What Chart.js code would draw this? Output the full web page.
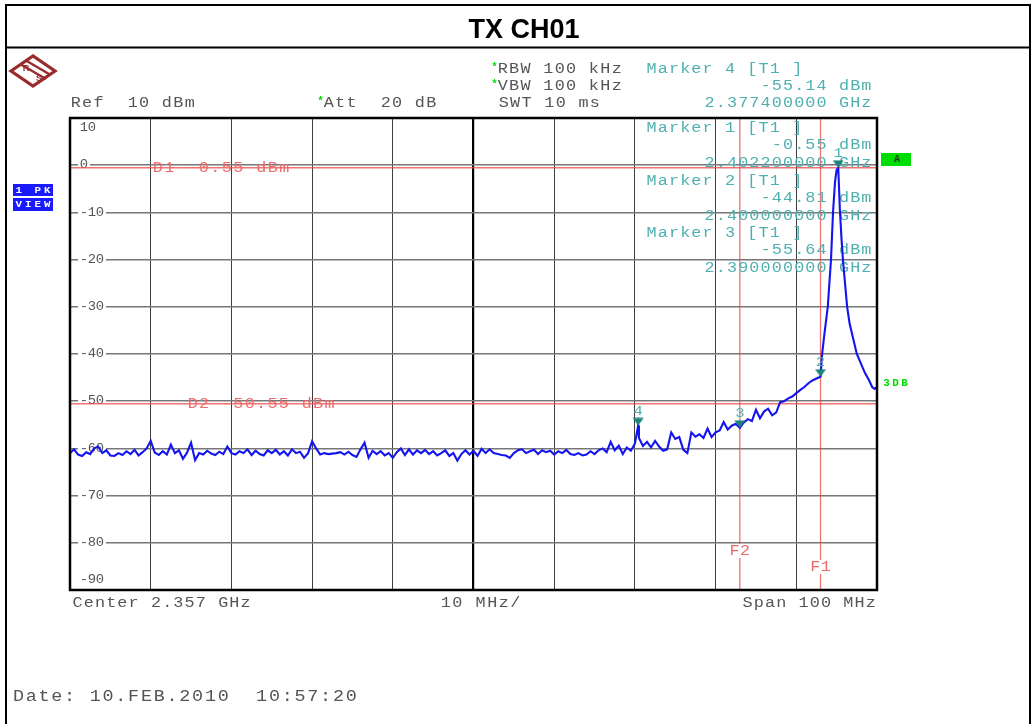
<!DOCTYPE html>
<html>
<head>
<meta charset="utf-8">
<script src="https://cdn.jsdelivr.net/npm/chart.js@4.4.1/dist/chart.umd.min.js"></script>
<style>
  html, body { margin: 0; padding: 0; background: #ffffff; }
  canvas { display: block; }
</style>
</head>
<body>
<canvas id="c" width="1035" height="724"></canvas>
<script>
// ---- sweep settings ----
const title = 'TX CH01';
const startFreqMHz = 2307;
const stopFreqMHz = 2407;
const stepMHz = 0.5;
const refLevel = 10;
const bottomLevel = -90;
const levelTicks = [10, 0, -10, -20, -30, -40, -50, -60, -70, -80, -90];

// trace levels (dBm) every 0.5 MHz from 2307.0 to 2399.5 MHz
const floorLevels = [
  -61.0, -60.2, -61.3, -61.6, -60.8, -61.2, -60.0, -59.6, -61.0, -60.4,
  -61.5, -61.6, -61.0, -61.4, -60.6, -61.2, -60.3, -61.5, -60.8, -60.0,
  -58.4, -60.9, -61.4, -60.6, -61.3, -59.2, -61.0, -60.4, -62.2, -60.9,
  -58.8, -62.5, -61.0, -61.3, -60.5, -61.1, -61.4, -60.7, -61.2, -59.6,
  -61.0, -61.3, -60.6, -61.0, -60.2, -61.4, -60.5, -61.2, -61.5, -60.4,
  -61.0, -60.3, -61.3, -60.6, -61.5, -60.2, -61.0, -60.7, -62.0, -61.0,
  -58.5, -60.0, -61.3, -61.0, -61.2, -61.1, -61.0, -60.8, -61.3, -60.7,
  -61.4, -61.8, -60.2, -58.8, -62.0, -60.5, -61.2, -60.6, -61.5, -61.0,
  -62.0, -60.8, -60.0, -61.4, -60.2, -61.3, -60.4, -61.0, -60.3, -61.2,
  -60.6, -61.5, -61.0, -60.4, -61.6, -61.0, -62.6, -61.2, -60.4, -61.3,
  -60.5, -61.6, -60.1, -61.0, -60.2, -61.0, -61.2, -61.4, -61.5, -62.0,
  -61.0, -60.4, -60.2, -61.0, -60.6, -60.3, -61.2, -60.4, -60.8, -60.5,
  -61.3, -60.6, -61.0, -60.3, -61.2, -61.4, -61.0, -61.5, -61.3, -60.6,
  -61.2, -60.4, -60.0, -60.8, -58.6, -60.4, -59.4, -61.2, -59.8, -60.5,
  -59.0, -57.8, -59.5, -58.6, -59.8, -58.4, -59.6, -60.5, -60.2, -56.6,
  -58.0, -57.6, -60.3, -61.0, -56.6, -57.5, -57.0, -57.8, -55.8, -57.6,
  -56.6, -56.2, -54.4, -56.0, -55.2, -54.8, -55.64, -54.5, -53.8, -54.2,
  -51.8, -53.6, -52.2, -51.6, -53.0, -52.4, -50.2, -50.0, -49.4, -49.0,
  -48.3, -47.6, -47.0, -46.2, -45.6, -45.2
];

// carrier region, finer resolution (MHz / dBm)
const peakFreqs  = [2400.0, 2400.2, 2400.5, 2400.9, 2401.3, 2401.55, 2401.8, 2402.0, 2402.2, 2402.4, 2402.6,
                    2402.8, 2403.3, 2403.6, 2404.0, 2404.5, 2405.0, 2405.5, 2406.0, 2406.4, 2406.7, 2407.0];
const peakLevels = [-44.81, -40.0, -35.5, -30.0, -20.0, -10.0, -3.5, -1.0, -0.55, -9.5, -15.5,
                    -20.5, -30.0, -33.5, -36.4, -40.0, -42.0, -44.0, -45.5, -47.0, -47.4, -47.0];

// markers
const markerIds    = [1, 2, 3, 4];
const markerFreqs  = [2402.2, 2400.0, 2390.0, 2377.4];
const markerLevels = [-0.55, -44.81, -55.64, -55.14];

// display lines and frequency lines
const displayLineNames  = ['D1', 'D2'];
const displayLineLevels = [-0.55, -50.55];
const freqLineNames = ['F1', 'F2'];
const freqLineFreqs = [2400.0, 2390.0];

// ---- build trace points ----
const tracePoints = [];
floorLevels.forEach((v, i) => tracePoints.push({ x: startFreqMHz + i * stepMHz, y: v }));
peakFreqs.forEach((f, i) => tracePoints.push({ x: f, y: peakLevels[i] }));
markerFreqs.forEach((f, i) => {
  const k = tracePoints.findIndex(p => Math.abs(p.x - f) < 1e-6);
  if (k >= 0) tracePoints[k].y = markerLevels[i];
  else tracePoints.push({ x: f, y: markerLevels[i] });
});
tracePoints.sort((a, b) => a.x - b.x);

const markerPoints = markerFreqs.map((f, i) => ({ x: f, y: markerLevels[i] }));

// ---- colours ----
const TEXT_GRAY = '#555555';
const MARKER_TEXT = '#4fb0b0';
const MARKER_FILL = '#1c8378';
const RED_LINE = 'rgba(236, 70, 70, 0.75)';
const RED_TEXT = '#ee6a6a';
const TRACE_BLUE = '#1414f0';
const GREEN = '#00dd00';
const MONO = '"Liberation Mono", "DejaVu Sans Mono", monospace';

// downward marker triangle whose tip sits on the image centre
const markerImg = document.createElement('canvas');
markerImg.width = 12; markerImg.height = 16;
(function () {
  const g = markerImg.getContext('2d');
  g.fillStyle = MARKER_FILL;
  g.beginPath();
  g.moveTo(0.5, 0.5); g.lineTo(11.5, 0.5); g.lineTo(6, 8); g.closePath();
  g.fill();
})();

// fixed-pitch text, each glyph centred in its cell and widened a little
function monoText(ctx, text, x, y, o) {
  const pitch = o.pitch || 11.2, size = o.size || 14, sx = o.sx || 1.2;
  ctx.save();
  ctx.font = (o.weight || 'normal') + ' ' + size + 'px ' + MONO;
  ctx.fillStyle = o.color || TEXT_GRAY;
  ctx.textAlign = 'center';
  ctx.textBaseline = 'middle';
  const total = text.length * pitch;
  const x0 = o.align === 'right' ? x - total : (o.align === 'center' ? x - total / 2 : x);
  if (o.backdrop) {
    ctx.fillStyle = o.backdrop;
    ctx.fillRect(x0 - 2, y - size / 2, total + 4, size);
    ctx.fillStyle = o.color || TEXT_GRAY;
  }
  for (let i = 0; i < text.length; i++) {
    const ch = text[i];
    if (ch === ' ') continue;
    ctx.save();
    ctx.translate(x0 + (i + 0.5) * pitch, y);
    ctx.scale(sx, 1);
    ctx.fillText(ch, 0, 0);
    ctx.restore();
  }
  ctx.restore();
}

function markerLines(i) {
  return [
    'Marker ' + markerIds[i] + ' [T1 ]',
    markerLevels[i].toFixed(2) + ' dBm',
    (markerFreqs[i] / 1000).toFixed(9) + ' GHz'
  ];
}

// frame, header, annotations drawn below the trace
const underlay = {
  id: 'underlay',
  beforeDraw(chart) {
    const ctx = chart.ctx;
    ctx.save();
    ctx.fillStyle = '#ffffff';
    ctx.fillRect(0, 0, chart.width, chart.height);

    // outer frame and title row
    ctx.strokeStyle = '#000000';
    ctx.lineWidth = 2;
    ctx.strokeRect(6, 5, 1024, 760);
    ctx.beginPath(); ctx.moveTo(6, 47.5); ctx.lineTo(1030, 47.5); ctx.stroke();
    ctx.fillStyle = '#000000';
    ctx.font = 'bold 27px "Liberation Sans", Arial, sans-serif';
    ctx.textAlign = 'center';
    ctx.textBaseline = 'middle';
    ctx.fillText(title, 524, 31);

    // maker logo
    ctx.save();
    ctx.translate(33, 71);
    ctx.strokeStyle = '#9a2b2b';
    ctx.fillStyle = '#9a2b2b';
    ctx.lineWidth = 3.2;
    ctx.beginPath();
    ctx.moveTo(-22, 0); ctx.lineTo(0, -15); ctx.lineTo(22, 0); ctx.lineTo(0, 15); ctx.closePath();
    ctx.stroke();
    ctx.lineWidth = 2.4;
    ctx.beginPath();
    ctx.moveTo(-13, -7); ctx.lineTo(13, 8);
    ctx.moveTo(-8, -11); ctx.lineTo(16, 3);
    ctx.stroke();
    ctx.font = 'bold 9px "Liberation Sans", sans-serif';
    ctx.textAlign = 'center'; ctx.textBaseline = 'middle';
    ctx.fillText('R', -7, -2);
    ctx.fillText('S', 6, 8);
    ctx.restore();

    // header settings
    monoText(ctx, 'RBW 100 kHz', 497, 69, { pitch: 11.4 });
    monoText(ctx, 'VBW 100 kHz', 497, 86, { pitch: 11.4 });
    monoText(ctx, 'SWT 10 ms', 498, 103, { pitch: 11.4 });
    monoText(ctx, 'Ref  ' + refLevel + ' dBm', 70, 103, { pitch: 11.4 });
    monoText(ctx, 'Att  20 dB', 323, 103, { pitch: 11.4 });
    monoText(ctx, '*', 489, 67, { color: GREEN, size: 11, sx: 1, weight: 'bold' });
    monoText(ctx, '*', 489, 84, { color: GREEN, size: 11, sx: 1, weight: 'bold' });
    monoText(ctx, '*', 315, 101, { color: GREEN, size: 11, sx: 1, weight: 'bold' });

    // marker 4 readout in the header
    const m4 = markerLines(3);
    monoText(ctx, m4[0], 646, 69, { color: MARKER_TEXT });
    monoText(ctx, m4[1], 872, 86, { color: MARKER_TEXT, align: 'right' });
    monoText(ctx, m4[2], 872, 103, { color: MARKER_TEXT, align: 'right' });

    // trace status box
    ctx.fillStyle = '#1a1aff';
    ctx.fillRect(13, 184, 40, 12);
    ctx.fillRect(13, 198, 40, 13);
    monoText(ctx, '1 PK', 14, 190.5, { color: '#ffffff', size: 9, pitch: 9.5, weight: 'bold', sx: 1.2 });
    monoText(ctx, 'VIEW', 14, 204.5, { color: '#ffffff', size: 9, pitch: 9.5, weight: 'bold', sx: 1.2 });

    // footer
    monoText(ctx, 'Center 2.357 GHz', 72, 603, { pitch: 11.2 });
    monoText(ctx, '10 MHz/', 440, 603, { pitch: 11.6 });
    monoText(ctx, 'Span 100 MHz', 742, 603, { pitch: 11.2 });
    monoText(ctx, 'Date: 10.FEB.2010  10:57:20', 12, 697, { pitch: 12.8, size: 16, sx: 1.15 });
    ctx.restore();
  },
  beforeDatasetsDraw(chart) {
    const ctx = chart.ctx;
    const xs = chart.scales.x, ys = chart.scales.y;
    const a = chart.chartArea;
    ctx.save();

    // level labels on the grid
    ys.ticks.forEach(t => {
      let y = ys.getPixelForValue(t.value);
      const txt = String(t.value);
      if (t.value === refLevel) y += 10;
      else if (t.value === bottomLevel) y -= 10;
      const bg = (t.value === refLevel || t.value === bottomLevel) ? null : '#ffffff';
      monoText(ctx, txt, a.left + 10, y, { pitch: 8, size: 12, sx: 1.15, backdrop: bg });
    });

    // display lines
    displayLineLevels.forEach((lv, i) => {
      const y = ys.getPixelForValue(lv);
      ctx.strokeStyle = RED_LINE;
      ctx.lineWidth = 1.5;
      ctx.beginPath(); ctx.moveTo(a.left, y); ctx.lineTo(a.right, y); ctx.stroke();
    });
    monoText(ctx, displayLineNames[0] + ' ' + displayLineLevels[0].toFixed(2) + ' dBm', 152, ys.getPixelForValue(displayLineLevels[0]) + 1, { color: RED_TEXT, pitch: 11.5 });
    monoText(ctx, displayLineNames[1] + ' ' + displayLineLevels[1].toFixed(2) + ' dBm', 187, ys.getPixelForValue(displayLineLevels[1]) + 1, { color: RED_TEXT, pitch: 11.4 });

    // frequency lines
    const fLabelY = [567, 551];
    freqLineFreqs.forEach((f, i) => {
      const x = xs.getPixelForValue(f);
      ctx.strokeStyle = RED_LINE;
      ctx.lineWidth = 1.3;
      ctx.beginPath(); ctx.moveTo(x, a.top); ctx.lineTo(x, a.bottom); ctx.stroke();
      monoText(ctx, freqLineNames[i], x, fLabelY[i], { color: RED_TEXT, align: 'center', pitch: 10.5, backdrop: '#ffffff' });
    });

    // marker 1..3 readouts inside the diagram
    const blockY = [128, 181, 233];
    [0, 1, 2].forEach((m, k) => {
      const L = markerLines(m);
      monoText(ctx, L[0], 646, blockY[k], { color: MARKER_TEXT });
      monoText(ctx, L[1], 872, blockY[k] + 17.5, { color: MARKER_TEXT, align: 'right' });
      monoText(ctx, L[2], 872, blockY[k] + 35, { color: MARKER_TEXT, align: 'right' });
    });
    ctx.restore();
  },
  afterDatasetsDraw(chart) {
    const ctx = chart.ctx;
    const xs = chart.scales.x, ys = chart.scales.y;
    const a = chart.chartArea;
    ctx.save();

    // marker numbers above the triangles
    markerFreqs.forEach((f, i) => {
      const x = xs.getPixelForValue(f), y = ys.getPixelForValue(markerLevels[i]);
      monoText(ctx, String(markerIds[i]), x, y - 14, { color: MARKER_TEXT, align: 'center', pitch: 9, size: 13 });
    });

    // diagram frame
    ctx.strokeStyle = '#000000';
    ctx.lineWidth = 2.5;
    ctx.strokeRect(a.left, a.top, a.right - a.left, a.bottom - a.top);

    // limit / reference indicators right of the diagram
    ctx.fillStyle = GREEN;
    ctx.fillRect(881, 153, 30, 13);
    ctx.fillStyle = '#1a3a1a';
    ctx.font = 'bold 10px ' + MONO;
    ctx.textAlign = 'center'; ctx.textBaseline = 'middle';
    ctx.fillText('A', 897, 159.5);
    monoText(ctx, '3DB', 882, 383, { color: GREEN, size: 10, pitch: 9, weight: 'bold', sx: 1.1 });
    ctx.restore();
  }
};

new Chart(document.getElementById('c'), {
  type: 'line',
  data: {
    datasets: [
      {
        label: 'markers',
        data: markerPoints,
        showLine: false,
        pointStyle: markerImg,
        pointRadius: 6,
        order: 0
      },
      {
        label: 'trace',
        data: tracePoints,
        borderColor: TRACE_BLUE,
        borderWidth: 2.1,
        pointRadius: 0,
        tension: 0,
        fill: false,
        order: 1
      }
    ]
  },
  options: {
    responsive: false,
    animation: false,
    events: [],
    layout: { padding: { left: 70, top: 118, right: 158, bottom: 134 } },
    plugins: { legend: { display: false }, tooltip: { enabled: false }, title: { display: false } },
    scales: {
      x: {
        type: 'linear',
        min: startFreqMHz,
        max: stopFreqMHz,
        ticks: { stepSize: 10, display: false },
        border: { display: false },
        grid: {
          drawTicks: false,
          color: c => Math.abs(c.tick.value - 2357) < 0.01 ? '#000000' : '#3f3f3f',
          lineWidth: c => Math.abs(c.tick.value - 2357) < 0.01 ? 2.2 : 1
        },
        afterFit: s => { s.height = 0; }
      },
      y: {
        type: 'linear',
        min: bottomLevel,
        max: refLevel,
        ticks: { stepSize: 10, display: false },
        border: { display: false },
        grid: { drawTicks: false, color: '#777777', lineWidth: 1.5 },
        afterFit: s => { s.width = 0; }
      }
    }
  },
  plugins: [underlay]
});
</script>
</body>
</html>
